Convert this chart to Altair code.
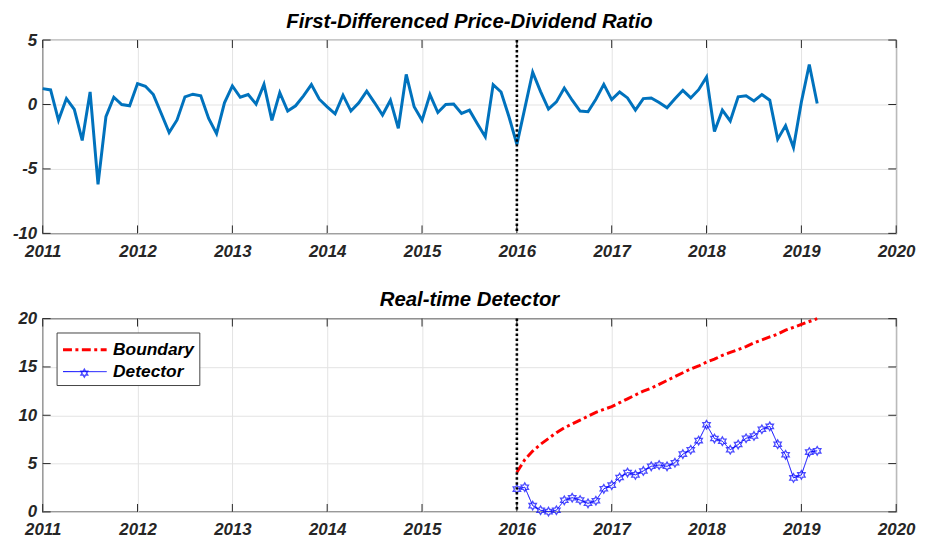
import altair as alt
import pandas as pd

# ---------------- data ----------------
years = list(range(2011, 2021))
top_yticks = [-10, -5, 0, 5]
bot_yticks = [0, 5, 10, 15, 20]
event_year = [2016]

# monthly first-differenced price-dividend ratio, Jan 2011 .. Mar 2019
pd_diff = [
    1.23, 1.13, -1.23, 0.46, -0.38, -2.79, 0.97, -6.2, -0.95, 0.56, 0.0, -0.1,
    1.62, 1.41, 0.77, -0.7, -2.18, -1.2, 0.59, 0.8, 0.67, -1.08, -2.26, 0.13,
    1.44, 0.56, 0.77, 0.03, 1.56, -1.23, 0.92, -0.51, -0.1, 0.67, 1.54, 0.41,
    -0.18, -0.72, 0.72, -0.51, 0.13, 1.03, 0.13, -0.82, 0.33, -1.85, 2.33, -0.18,
    -1.23, 0.77, -0.62, 0.0, 0.03, -0.69, -0.44, -1.5, -2.51, 1.54, 0.97, -0.95,
    -3.1, -0.3, 2.51, 1.0, -0.36, 0.2, 1.28, 0.33, -0.51, -0.56, 0.41, 1.56,
    0.38, 0.97, 0.51, -0.44, 0.46, 0.51, 0.15, -0.26, 0.44, 1.1, 0.51, 1.15,
    2.13, -2.1, -0.44, -1.28, 0.59, 0.67, 0.28, 0.77, 0.33, -2.69, -1.64, -3.33,
    0.2, 3.1, 0.08,
]

# monthly detector and boundary, Jan 2016 .. Mar 2019
detector = [
    2.36, 2.56, 0.65, 0.17, 0.03, 0.17, 1.2, 1.47, 1.23, 0.89, 1.16, 2.39,
    2.77, 3.56, 4.07, 3.83, 4.24, 4.72, 4.85, 4.72, 5.09, 5.98, 6.43, 7.38,
    9.02, 7.59, 7.32, 6.43, 6.97, 7.62, 7.86, 8.55, 8.85, 7.01, 5.91, 3.52,
    3.83, 6.19, 6.32,
]
boundary = [
    4.1, 5.4, 6.3, 7.0, 7.6, 8.2, 8.7, 9.1, 9.5, 9.9, 10.3, 10.6,
    10.9, 11.3, 11.7, 12.1, 12.5, 12.8, 13.2, 13.6, 14.0, 14.4, 14.8, 15.1,
    15.5, 15.8, 16.2, 16.5, 16.8, 17.1, 17.5, 17.8, 18.1, 18.4, 18.8, 19.1,
    19.4, 19.7, 20.0,
]
series_names = ["Boundary", "Detector"]

start_top = 2011
start_bot = 2016

# ---------------- tables ----------------
df_top = pd.DataFrame({"t": [start_top + i / 12 for i in range(len(pd_diff))], "v": pd_diff})
t_bot = [start_bot + i / 12 for i in range(len(detector))]
df_bot = pd.concat([
    pd.DataFrame({"t": t_bot, "v": boundary, "series": series_names[0]}),
    pd.DataFrame({"t": t_bot, "v": detector, "series": series_names[1]}),
])
df_det = pd.DataFrame({"t": t_bot, "v": detector, "marker": series_names[1]})
df_years = pd.DataFrame({"yr": years})
df_event = pd.DataFrame({"yr": event_year})

W, H = 861, 195
FONT = "Liberation Sans"
AXC = "#262626"
TICK = 8

# six-pointed star (MATLAB 'hexagram') in unit coordinates
STAR = [(0, -1), (-0.289, -0.5), (-0.866, -0.5), (-0.577, 0), (-0.866, 0.5), (-0.289, 0.5),
        (0, 1), (0.289, 0.5), (0.866, 0.5), (0.577, 0), (0.866, -0.5), (0.289, -0.5)]
hexagram = " ".join("%s%.3f,%.3f" % ("M" if i == 0 else "L", x, y)
                    for i, (x, y) in enumerate(STAR)) + " Z"
leg_line = "M-1,0 L3,0"

xscale = alt.Scale(domain=[2011, 2020], nice=False, zero=False)
xaxis = alt.Axis(values=years, format="d", title=None, ticks=False, domain=False,
                 grid=True, labelPadding=10, labelOverlap=False, labelFlush=False)


def panel(base_layer, yvals, ydom, title):
    yscale = alt.Scale(domain=ydom, nice=False, zero=False)
    yaxis = alt.Axis(values=yvals, title=None, ticks=False, domain=False, grid=True,
                     labelPadding=6, labelOverlap=False, labelFlush=False,
                     labelExpr="'' + datum.value")
    grid = alt.Chart(df_years).mark_rule(opacity=0).encode(
        x=alt.X("yr:Q", scale=xscale, axis=xaxis))
    df_y = pd.DataFrame({"yv": yvals})
    yg = alt.Chart(df_y).mark_rule(opacity=0).encode(
        y=alt.Y("yv:Q", scale=yscale, axis=yaxis))
    # inward tick marks on all four sides
    tb = alt.Chart(df_years).mark_rule(color=AXC, strokeWidth=1).encode(
        x=alt.X("yr:Q", scale=xscale), y=alt.value(H), y2=alt.value(H - TICK))
    tt = alt.Chart(df_years).mark_rule(color=AXC, strokeWidth=1).encode(
        x=alt.X("yr:Q", scale=xscale), y=alt.value(0), y2=alt.value(TICK))
    tl = alt.Chart(df_y).mark_rule(color=AXC, strokeWidth=1).encode(
        y=alt.Y("yv:Q", scale=yscale), x=alt.value(0), x2=alt.value(TICK))
    tr = alt.Chart(df_y).mark_rule(color=AXC, strokeWidth=1).encode(
        y=alt.Y("yv:Q", scale=yscale), x=alt.value(W), x2=alt.value(W - TICK))
    ev = alt.Chart(df_event).mark_rule(color="black", strokeWidth=2.6,
                                        strokeDash=[2.5, 2.5]).encode(
        x=alt.X("yr:Q", scale=xscale), y=alt.value(0), y2=alt.value(H))
    layers = [grid, yg, tb, tt, tl, tr] + base_layer + [ev]
    return alt.layer(*layers).properties(
        width=W, height=H,
        title=alt.TitleParams(title, font=FONT, fontSize=20.5, fontWeight="bold",
                              fontStyle="italic", color="black", offset=-1))


yscale_top = alt.Scale(domain=[-10, 5], nice=False, zero=False)
top_line = alt.Chart(df_top).mark_line(color="#0072BD", strokeWidth=3,
                                       strokeJoin="miter").encode(
    x=alt.X("t:Q", scale=xscale), y=alt.Y("v:Q", scale=yscale_top))

yscale_bot = alt.Scale(domain=[0, 20], nice=False, zero=False)
leg = alt.Legend(title=None)
bot_lines = alt.Chart(df_bot).mark_line().encode(
    x=alt.X("t:Q", scale=xscale),
    y=alt.Y("v:Q", scale=yscale_bot),
    color=alt.Color("series:N",
                    scale=alt.Scale(domain=series_names, range=["#FF0000", "#0000FF"]),
                    legend=leg),
    strokeDash=alt.StrokeDash("series:N",
                              scale=alt.Scale(domain=series_names,
                                              range=[[9, 3.5, 3, 3.5], [1, 0]]),
                              legend=leg),
    strokeWidth=alt.StrokeWidth("series:N",
                                scale=alt.Scale(domain=series_names, range=[3, 1]),
                                legend=leg),
)
# star marker; its own (label-less) legend puts the star over the Detector legend line
star_legend = alt.Legend(
    title=None, orient="none", legendX=37, legendY=50, padding=0,
    strokeColor="transparent", fillColor="transparent", labelOpacity=0,
    labelFontSize=1, labelOffset=0, labelLimit=1,
    symbolSize=60, symbolStrokeColor="#0000FF", symbolFillColor="transparent",
    symbolStrokeWidth=1.5, symbolType=hexagram, zindex=5,
)
bot_pts = alt.Chart(df_det).mark_point(filled=False, color="#0000FF",
                                       size=75, strokeWidth=1.3).encode(
    x=alt.X("t:Q", scale=xscale), y=alt.Y("v:Q", scale=yscale_bot),
    shape=alt.Shape("marker:N", scale=alt.Scale(domain=[series_names[1]], range=[hexagram]),
                    legend=star_legend),
)

top = panel([top_line], top_yticks, [-10, 5], "First-Differenced Price-Dividend Ratio")
bot = panel([bot_lines, bot_pts], bot_yticks, [0, 20], "Real-time Detector")

chart = alt.vconcat(top, bot, spacing=29).resolve_legend(
    color="independent", strokeDash="independent", strokeWidth="independent",
    shape="independent",
).properties(
    padding={"left": 3, "top": 0, "right": 5, "bottom": 0}
).configure_view(stroke=AXC, strokeWidth=1.2).configure_axis(
    labelFont=FONT, labelFontSize=17, labelFontWeight="bold", labelFontStyle="italic",
    labelColor=AXC, gridColor="#e3e3e3", gridWidth=1,
).configure_legend(
    orient="top-left", offset=14, padding=5, strokeColor="#444444", fillColor="white",
    symbolType=leg_line, symbolSize=484, symbolStrokeWidth=2,
    labelFont=FONT, labelFontSize=17.5, labelFontWeight="bold", labelFontStyle="italic",
    labelColor="black", rowPadding=2, labelOffset=27, cornerRadius=0,
)

chart.save("out.html", embed_options={"renderer": "svg", "actions": False})
